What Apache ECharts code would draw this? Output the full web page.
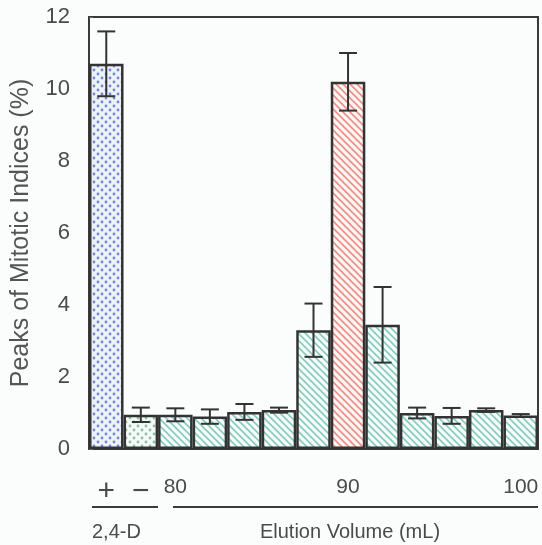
<!DOCTYPE html>
<html>
<head>
<meta charset="utf-8">
<script src="https://cdn.jsdelivr.net/npm/echarts@6/dist/echarts.min.js"></script>
<style>
  html, body { margin: 0; padding: 0; background: #fbfdfc; }
  #chart { width: 542px; height: 545px; }
</style>
</head>
<body>
<div id="chart"></div>
<script>
// fractions: 2,4-D +, 2,4-D -, then elution volume 80..100 mL (step 2)
const categories = ['+', '−', '80', '82', '84', '86', '88', '90', '92', '94', '96', '98', '100']
const tickLabels = ['+', '−', '80', '', '', '', '', '90', '', '', '', '', '100']
const peakValues = [10.7, 0.95, 0.95, 0.9, 1.03, 1.08, 3.3, 10.2, 3.45, 1.0, 0.92, 1.08, 0.93]
const errValues = [0.9, 0.2, 0.18, 0.2, 0.22, 0.07, 0.74, 0.8, 1.05, 0.15, 0.22, 0.05, 0.04]
// fill style for each bar
const fillTypes = ['dotBlue', 'dotGreen', 'hatchTeal', 'hatchTeal', 'hatchTeal', 'hatchTeal', 'hatchTeal',
  'hatchRed', 'hatchTeal', 'hatchTeal', 'hatchTeal', 'hatchTeal', 'hatchTeal']

function dotPattern(bg, dot) {
  const c = document.createElement('canvas')
  c.width = 8; c.height = 8
  const ctx = c.getContext('2d')
  ctx.fillStyle = bg
  ctx.fillRect(0, 0, 8, 8)
  ctx.fillStyle = dot
  ;[[2, 2], [6, 6]].forEach(p => {
    ctx.beginPath()
    ctx.arc(p[0], p[1], 1.4, 0, Math.PI * 2)
    ctx.fill()
  })
  return c
}

function hatchPattern(bg, line) {
  const s = 7
  const c = document.createElement('canvas')
  c.width = s; c.height = s
  const ctx = c.getContext('2d')
  ctx.fillStyle = bg
  ctx.fillRect(0, 0, s, s)
  ctx.strokeStyle = line
  ctx.lineWidth = 1.6
  ctx.beginPath()
  ctx.moveTo(-1, -1); ctx.lineTo(s + 1, s + 1)
  ctx.moveTo(-2, s - 2); ctx.lineTo(2, s + 2)
  ctx.moveTo(s - 2, -2); ctx.lineTo(s + 2, 2)
  ctx.stroke()
  return c
}

const fills = {
  dotBlue: { image: dotPattern('#edf2fa', '#7488cc'), repeat: 'repeat' },
  dotGreen: { image: dotPattern('#f4faf6', '#8fbfa8'), repeat: 'repeat' },
  hatchTeal: { image: hatchPattern('#f6fbf9', '#86cbbd'), repeat: 'repeat' },
  hatchRed: { image: hatchPattern('#fbf5f3', '#ec8f86'), repeat: 'repeat' }
}

const barData = peakValues.map((v, i) => ({
  value: v,
  itemStyle: { color: fills[fillTypes[i]] }
}))
const errData = peakValues.map((v, i) => [i, v - errValues[i], v + errValues[i]])

const font = 'Liberation Sans, Arial, sans-serif'
// the +/- signs are drawn larger, like in the figure
const xData = categories.map((c, i) => ({
  value: c,
  textStyle: { fontSize: i < 2 ? 30 : 21, fontFamily: font, color: '#4a4a4a' }
}))

const chart = echarts.init(document.getElementById('chart'))

chart.setOption({
  animation: false,
  grid: {
    left: 89, right: 4, top: 17, bottom: 96,
    show: true, borderColor: '#3a3a3a', borderWidth: 2, backgroundColor: 'transparent'
  },
  xAxis: {
    type: 'category',
    data: xData,
    axisLine: { show: false },
    axisTick: { show: false },
    axisLabel: {
      interval: 0,
      margin: 28,
      fontSize: 21,
      fontFamily: font,
      color: '#4a4a4a',
      formatter: (v, i) => tickLabels[i]
    }
  },
  yAxis: {
    type: 'value',
    min: 0, max: 12, interval: 2,
    name: 'Peaks of Mitotic Indices (%)',
    nameLocation: 'middle',
    nameGap: 55,
    nameTextStyle: { fontSize: 25, fontFamily: font, color: '#555' },
    axisLine: { show: true, lineStyle: { color: '#3a3a3a', width: 2 } },
    axisTick: { show: true, inside: true, length: 4, lineStyle: { color: '#666' } },
    splitLine: { show: false },
    axisLabel: { margin: 19, fontSize: 22, fontFamily: font, color: '#4a4a4a' }
  },
  series: [
    {
      type: 'bar',
      data: barData,
      barCategoryGap: 0,
      itemStyle: { borderColor: '#333', borderWidth: 2.5 }
    },
    {
      type: 'custom',
      data: errData,
      z: 5,
      renderItem: (params, api) => {
        const lo = api.coord([api.value(0), api.value(1)])
        const hi = api.coord([api.value(0), api.value(2)])
        const hw = 9
        const style = { stroke: '#333', lineWidth: 2, fill: null }
        return {
          type: 'group',
          children: [
            { type: 'line', shape: { x1: lo[0], y1: lo[1], x2: hi[0], y2: hi[1] }, style },
            { type: 'line', shape: { x1: lo[0] - hw, y1: lo[1], x2: lo[0] + hw, y2: lo[1] }, style },
            { type: 'line', shape: { x1: hi[0] - hw, y1: hi[1], x2: hi[0] + hw, y2: hi[1] }, style }
          ]
        }
      }
    }
  ],
  graphic: [
    { type: 'line', shape: { x1: 92, y1: 507, x2: 158, y2: 507 }, style: { stroke: '#3a3a3a', lineWidth: 2 } },
    { type: 'line', shape: { x1: 173, y1: 507, x2: 538, y2: 507 }, style: { stroke: '#3a3a3a', lineWidth: 2 } },
    {
      type: 'text', x: 92, y: 532,
      style: { text: '2,4-D', fontSize: 20, fontFamily: font, fill: '#4a4a4a', verticalAlign: 'middle' }
    },
    {
      type: 'text', x: 350, y: 532,
      style: { text: 'Elution Volume (mL)', fontSize: 20, fontFamily: font, fill: '#4a4a4a', align: 'center', verticalAlign: 'middle' }
    }
  ]
})
</script>
</body>
</html>
